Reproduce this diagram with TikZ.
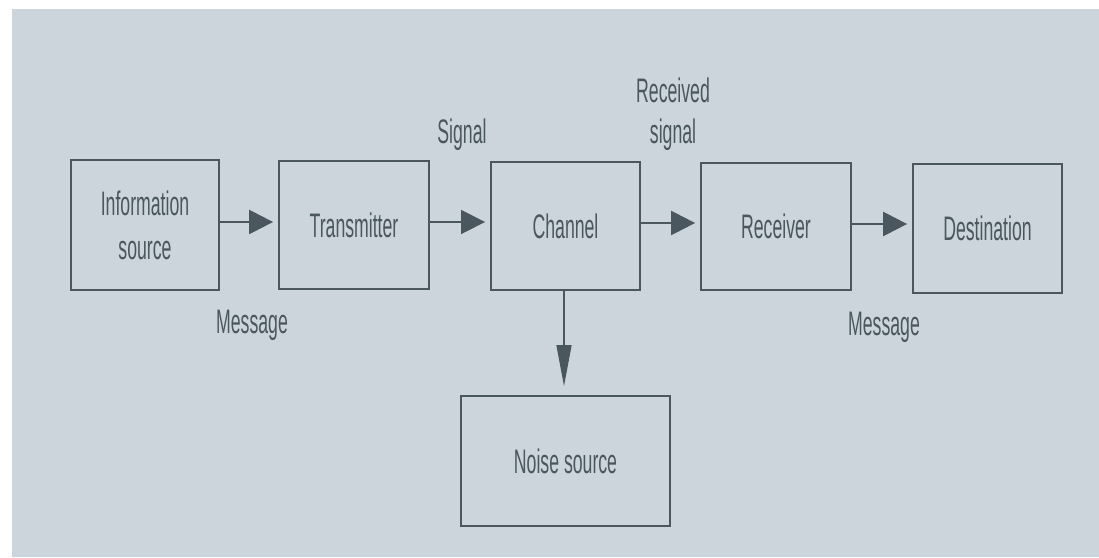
\documentclass[tikz,border=0pt]{standalone}
\usepackage{fontspec}
\setmainfont{Liberation Sans}[FakeStretch=0.52]
\usetikzlibrary{arrows.meta}
\definecolor{bgc}{HTML}{CBD5DB}
\definecolor{ink}{HTML}{4B575E}
\begin{document}
\begin{tikzpicture}[x=1pt,y=-1pt,
  blk/.style={draw=ink,line width=1.8pt,minimum width=#1,inner sep=0pt,text=ink,align=center,
    font=\fontsize{34}{44}\selectfont},
  lbl/.style={text=ink,anchor=base,inner sep=0pt,font=\fontsize{34}{40}\selectfont,align=center},
  harrow/.style={draw=ink,line width=2.4pt,-{Triangle[length=24pt,width=24pt]},shorten >=5pt},
  varrow/.style={draw=ink,line width=1.4pt,-{Triangle[length=41pt,width=15pt]},shorten >=9pt}]
\useasboundingbox (0,0) rectangle (1099,557);
\fill[white] (0,0) rectangle (1099,557);
\fill[bgc] (12,9) rectangle (1099,557);
\node[blk=148pt,minimum height=130pt] (info) at (145,225) {Information\\source};
\node[blk=150pt,minimum height=128pt] (trans) at (354,225) {Transmitter};
\node[blk=149pt,minimum height=128pt] (chan) at (565.5,226) {Channel};
\node[blk=150pt,minimum height=127pt] (recv) at (776,226.5) {Receiver};
\node[blk=149pt,minimum height=129pt] (dest) at (987.5,228.5) {Destination};
\node[blk=209pt,minimum height=130pt] (noise) at (565.5,461) {Noise source};
\draw[harrow] ([yshift=3pt]info.east) -- ([yshift=3pt]info.east -| trans.west);
\draw[harrow,line width=1.4pt] ([yshift=3pt]trans.east) -- ([yshift=3pt]trans.east -| chan.west);
\draw[harrow] ([yshift=3pt]chan.east) -- ([yshift=3pt]chan.east -| recv.west);
\draw[harrow] ([yshift=2.5pt]recv.east) -- ([yshift=2.5pt]recv.east -| dest.west);
\draw[varrow] ([xshift=-1.5pt]chan.south) -- ([xshift=-1.5pt]chan.south |- noise.north);
\node[lbl] (msg1) at (252,333) {Message};
\node[lbl] (sig) at (462,143) {Signal};
\node[lbl] (rs1) at (673,102) {Received};
\node[lbl] (rs2) at (673,143) {signal};
\node[lbl] (msg2) at (884,335) {Message};
\end{tikzpicture}
\end{document}
